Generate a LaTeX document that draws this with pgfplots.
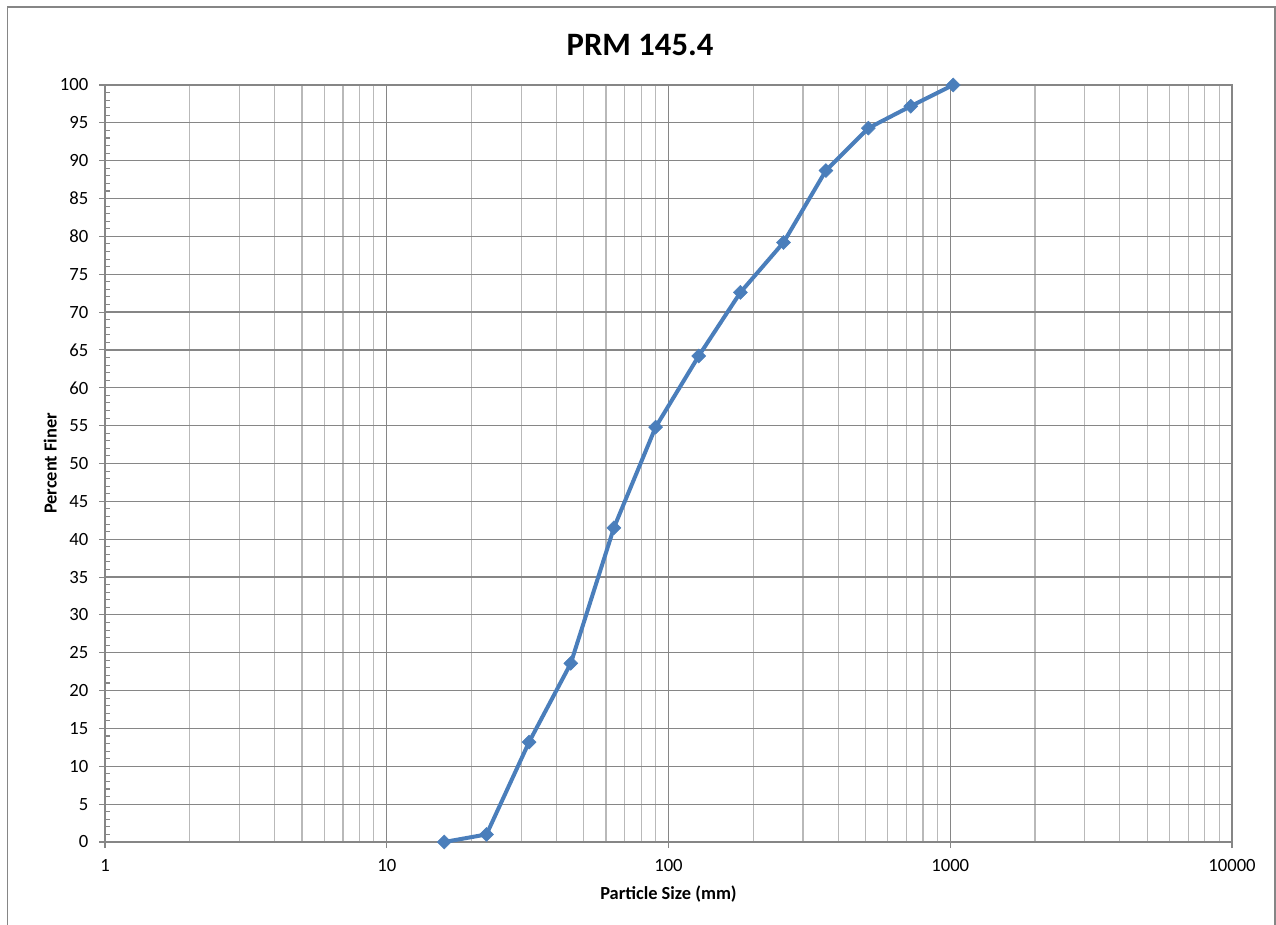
\documentclass[border=0pt]{standalone}
\usepackage{pgfplots}
\pgfplotsset{compat=1.18}
\usepackage{fontspec}
\setmainfont{Carlito}
\definecolor{serie}{RGB}{74,126,187}
\definecolor{majgrid}{RGB}{134,134,134}
\definecolor{mingrid}{RGB}{185,185,185}
\begin{document}
\begin{tikzpicture}
\useasboundingbox (0pt,0pt) rectangle (957pt,693pt);
\draw[majgrid,line width=1.1pt] (5.6pt,-8pt) rectangle (956.2pt,687.8pt);
\node[font=\bfseries\fontsize{24.5}{27}\selectfont] at (480pt,659.3pt) {PRM 145.4};
\begin{axis}[
  at={(78.75pt,61.5pt)}, anchor=origin,
  scale only axis,
  width=845.25pt, height=567.75pt,
  xmode=log, log basis x=10,
  xmin=1, xmax=10000, ymin=0, ymax=100,
  ytick distance=5, minor y tick num=4,
  xtick={1,10,100,1000,10000},
  xticklabels={1,10,100,1000,10000},
  minor xtick={2,3,4,5,6,7,8,9,20,30,40,50,60,70,80,90,200,300,400,500,600,700,800,900,2000,3000,4000,5000,6000,7000,8000,9000},
  axis line style={majgrid, line width=1pt},
  tick align=outside, tick pos=left,
  major tick length=4.5pt,
  minor tick length=3.75pt,
  every tick/.style={majgrid, line width=0.8pt},
  minor x tick style={draw=none},
  minor y tick style={xshift=3.75pt},
  xmajorgrids, xminorgrids, ymajorgrids,
  major grid style={majgrid, line width=0.9pt},
  minor grid style={mingrid, line width=0.9pt},
  ticklabel style={font=\fontsize{14}{15}\selectfont},
  /pgf/number format/assume math mode=true,
  xticklabel style={yshift=-5pt},
  yticklabel style={xshift=-4.5pt},
  xlabel={Particle Size (mm)},
  ylabel={Percent Finer},
  label style={font=\bfseries\fontsize{13.8}{15}\selectfont},
  xlabel style={at={(axis description cs:0.5,0)}, anchor=center, yshift=-39pt},
  ylabel style={at={(axis description cs:0,0.5)}, anchor=center, yshift=41pt},
]
\addplot[serie, line width=3pt, mark=square*, mark size=3.7pt,
  mark options={fill=serie, line width=0.4pt, rotate=45}] coordinates {
  (16,0) (22.6,1.0) (32,13.2) (45,23.6) (64,41.5) (90,54.8) (128,64.2)
  (180,72.6) (256,79.2) (362,88.7) (512,94.3) (724,97.2) (1024,100)
};
\end{axis}
\end{tikzpicture}
\end{document}
